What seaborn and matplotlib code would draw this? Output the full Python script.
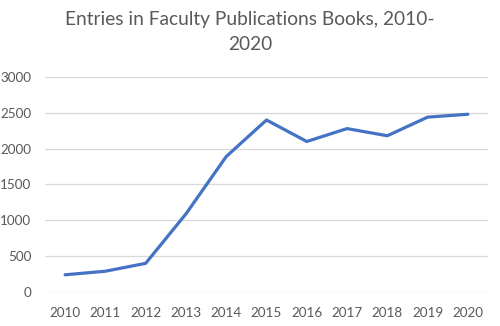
import matplotlib
matplotlib.use("Agg")
import matplotlib.pyplot as plt
import seaborn as sns
import pandas as pd

years = ["2010", "2011", "2012", "2013", "2014", "2015", "2016", "2017", "2018", "2019", "2020"]
entries = [240, 290, 400, 1090, 1890, 2400, 2100, 2280, 2180, 2440, 2480]
y_ticks = [0, 500, 1000, 1500, 2000, 2500, 3000]
title = "Entries in Faculty Publications Books, 2010-\n2020"

sns.set_theme(style="white")
plt.rcParams['font.family'] = ['Lato', 'DejaVu Sans']

df = pd.DataFrame({"year": years, "entries": entries})

fig = plt.figure(figsize=(5, 3.26), dpi=100)
ax = fig.add_axes([0.09, 0.1043, 0.886, 0.6595])
sns.lineplot(data=df, x="year", y="entries", ax=ax, color="#4472C4", linewidth=2.3, sort=False)

ax.set_xlim(-0.5, len(years) - 0.5)
ax.set_ylim(0, 3000)
ax.set_yticks(y_ticks)
ax.set_yticklabels([str(t) for t in y_ticks])
ax.grid(axis="y", color="#D9D9D9", linewidth=0.9)
ax.set_axisbelow(True)
for s in ax.spines.values():
    s.set_visible(False)
ax.tick_params(axis="both", length=0, labelsize=9.7, labelcolor="#595959")
ax.tick_params(axis="x", pad=11)
ax.tick_params(axis="y", pad=10)
ax.set_xlabel("")
ax.set_ylabel("")

fig.text(0.5, 0.965, title, ha="center", va="top", fontsize=13.8, color="#595959", linespacing=1.55)

fig.savefig("out.png", dpi=100)
